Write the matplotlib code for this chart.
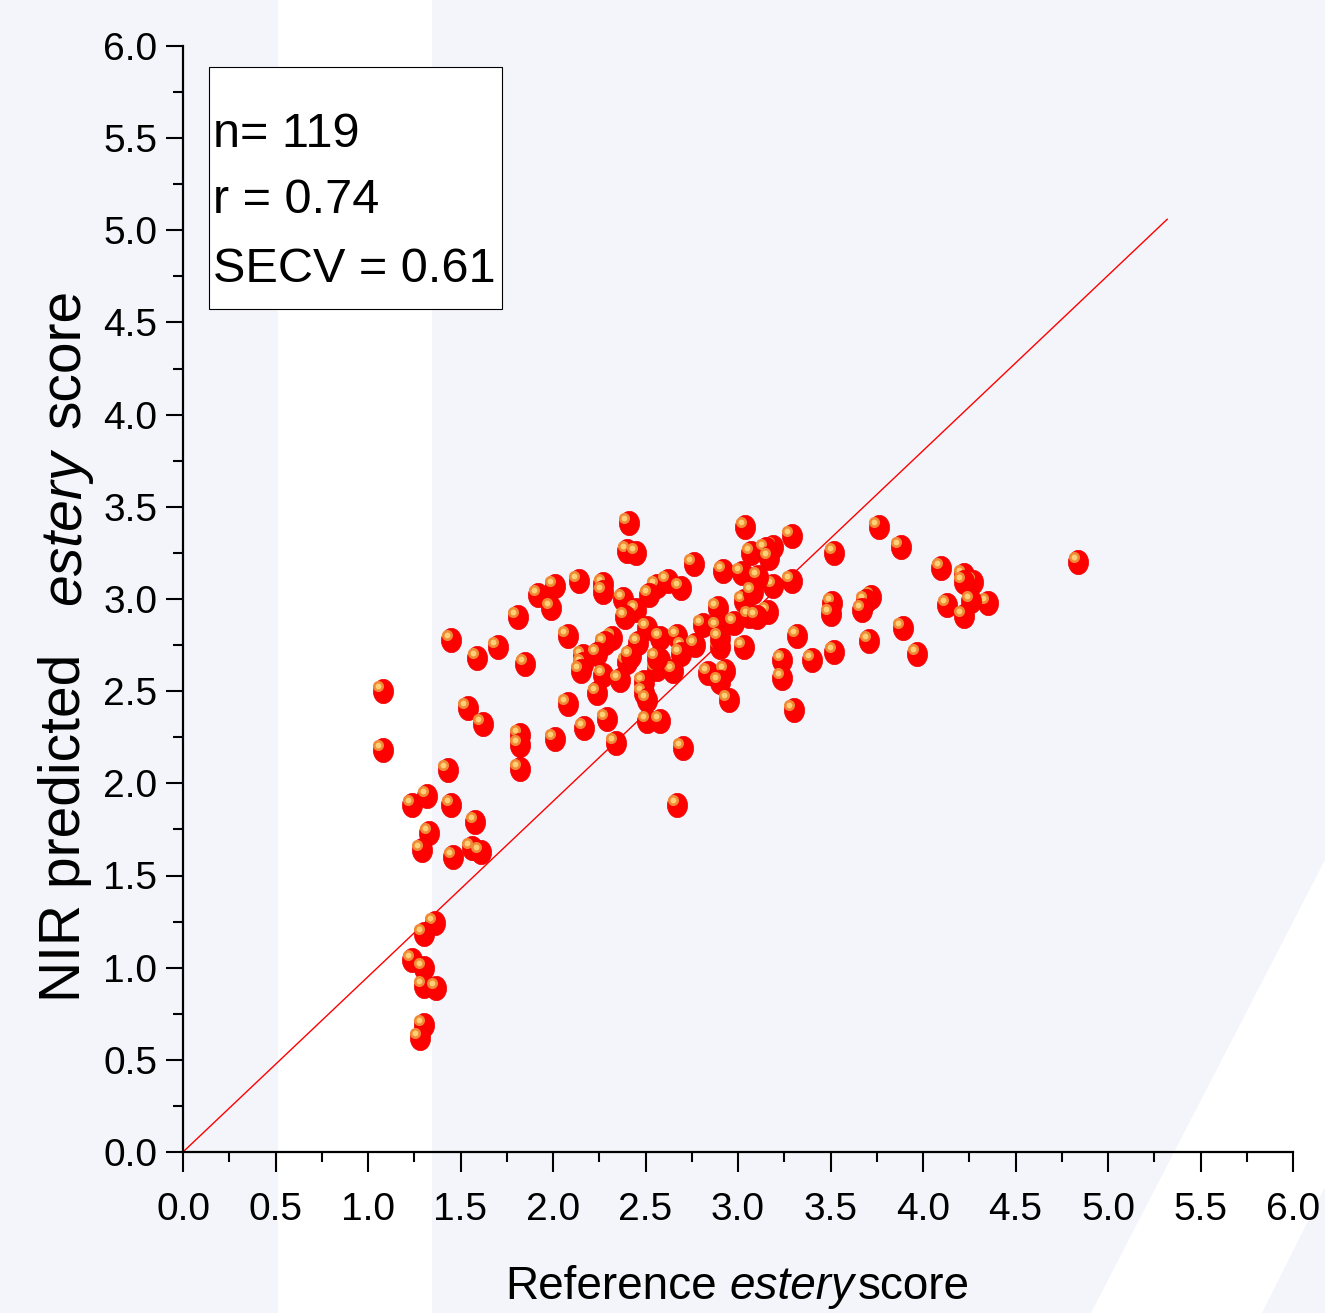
import matplotlib
matplotlib.use("Agg")
import matplotlib.pyplot as plt
from matplotlib import font_manager, patches
from matplotlib.path import Path
from matplotlib.transforms import offset_copy
import numpy as np

# reference (x) and NIR predicted (y) estery scores
ref_x = [1.08, 1.08, 1.43, 1.24, 1.32, 1.45, 1.33, 1.29, 1.58, 1.46,
         1.56, 1.61, 1.36, 1.30, 1.24, 1.30, 1.30, 1.37, 1.30, 1.28,
         1.45, 1.59, 1.54, 1.62, 1.70, 1.81, 1.85, 1.82, 1.82, 1.82,
         2.41, 2.40, 2.45, 3.04, 2.76, 2.92, 2.14, 2.27, 2.27, 2.01,
         1.92, 1.99, 2.08, 2.56, 2.62, 2.69, 2.52, 2.38, 2.45, 2.39,
         3.07, 3.02, 3.03, 2.89, 2.81, 2.89, 2.98, 3.06, 3.03, 2.90,
         2.90, 2.32, 2.51, 2.58, 2.67, 2.28, 2.46, 2.70, 2.77, 2.16,
         2.24, 2.16, 2.15, 2.40, 2.58, 2.69, 2.27, 2.36, 2.56, 2.65,
         2.84, 2.93, 2.24, 2.49, 2.49, 2.51, 2.90, 2.95, 2.08, 2.51,
         2.58, 2.29, 2.17, 2.01, 2.34, 2.70, 2.67, 2.42, 2.56,
         3.76, 3.88, 3.29, 3.52, 3.19, 3.15, 3.17, 4.84, 4.10, 4.22,
         4.27, 4.22, 3.29, 3.19, 3.11, 3.08, 3.72, 3.69, 3.67, 3.51,
         3.50, 4.35, 4.26, 4.13, 4.22, 3.16, 3.10, 3.89, 3.32, 3.71,
         3.52, 3.40, 3.24, 3.24, 3.97, 3.30]
pred_y = [2.50, 2.18, 2.07, 1.88, 1.93, 1.88, 1.73, 1.64, 1.79, 1.60,
          1.65, 1.63, 1.24, 1.18, 1.04, 1.00, 0.90, 0.89, 0.69, 0.62,
          2.78, 2.68, 2.41, 2.32, 2.74, 2.90, 2.65, 2.26, 2.21, 2.08,
          3.41, 3.26, 3.25, 3.39, 3.19, 3.15, 3.10, 3.08, 3.04, 3.07,
          3.02, 2.95, 2.80, 3.07, 3.10, 3.06, 3.02, 3.00, 2.94, 2.90,
          3.25, 3.14, 2.99, 2.95, 2.86, 2.85, 2.87, 2.91, 2.74, 2.74,
          2.79, 2.79, 2.84, 2.79, 2.80, 2.76, 2.76, 2.74, 2.75, 2.69,
          2.70, 2.65, 2.61, 2.66, 2.67, 2.70, 2.59, 2.56, 2.62, 2.61,
          2.60, 2.61, 2.49, 2.55, 2.49, 2.45, 2.55, 2.45, 2.43, 2.34,
          2.34, 2.35, 2.30, 2.24, 2.22, 2.19, 1.88, 2.69, 2.68,
          3.39, 3.28, 3.34, 3.25, 3.28, 3.27, 3.22, 3.20, 3.17, 3.13,
          3.09, 3.09, 3.10, 3.07, 3.12, 3.04, 3.01, 2.99, 2.94, 2.98,
          2.92, 2.98, 2.99, 2.97, 2.91, 2.93, 2.90, 2.84, 2.80, 2.77,
          2.71, 2.67, 2.67, 2.57, 2.70, 2.40]

# fitted line
fit_x = [0.0, 5.32]
fit_y = [0.0, 5.06]

stats_lines = ["n= 119", "r = 0.74", "SECV = 0.61"]
major_ticks = np.arange(0, 6.01, 0.5)
tick_labels = [f"{t:.1f}" for t in major_ticks]

W, H = 1325, 1313
bg = "#f4f5fb"

names = {f.name for f in font_manager.fontManager.ttflist}
narrow = "Liberation Sans Narrow" in names
plt.rcParams["font.family"] = ["Liberation Sans", "DejaVu Sans"]
nfam = ["Liberation Sans Narrow", "Liberation Sans"] if narrow else ["Liberation Sans"]
box_size = 39 if narrow else 35
ylab_size = 47 if narrow else 41


def px(x, y):
    return x / W, 1 - y / H


fig = plt.figure(figsize=(W / 100, H / 100), dpi=100, facecolor=bg)

# background decoration
fig.add_artist(patches.Rectangle(px(278, H), 154 / W, 1, transform=fig.transFigure,
                                 facecolor="white", edgecolor="none", zorder=-1))
fig.add_artist(patches.Polygon([px(1325, 860), px(1325, 1187), px(1262, 1313), px(1091, 1313)],
                               closed=True, transform=fig.transFigure,
                               facecolor="white", edgecolor="none", zorder=-1))

ax = fig.add_axes([183 / W, 1 - 1152 / H, 1110 / W, 1106 / H])
ax.set_facecolor("none")
ax.set_xlim(0, 6)
ax.set_ylim(0, 6)

ax.plot(fit_x, fit_y, color="#ff0000", lw=1.0, zorder=2)

t = np.linspace(0, 2 * np.pi, 60)
blob = Path(np.column_stack([0.83 * np.cos(t), np.sin(t)]), closed=True)
hl = offset_copy(ax.transData, fig=fig, x=-3.2, y=3.6, units="points")

for x, y in zip(ref_x, pred_y):
    ax.plot(x, y, marker=blob, ms=17.5, color="#ff0000", mec="#ee0000", mew=0.5,
            ls="none", zorder=3)
    ax.plot(x, y, marker="o", ms=8, color="#f08a35", mec="none", ls="none",
            transform=hl, zorder=3)
    ax.plot(x, y, marker="o", ms=4.2, color="#ffcf78", mec="none", ls="none",
            transform=hl, zorder=3)

for s in ["top", "right"]:
    ax.spines[s].set_visible(False)
for s in ["left", "bottom"]:
    ax.spines[s].set_linewidth(1.6)

ax.set_xticks(major_ticks)
ax.set_yticks(major_ticks)
ax.set_xticklabels(tick_labels)
ax.set_yticklabels(tick_labels)
ax.set_xticks(np.arange(0.25, 6, 0.5), minor=True)
ax.set_yticks(np.arange(0.25, 6, 0.5), minor=True)
ax.tick_params(axis="x", which="major", length=14.5, width=1.5, labelsize=28, pad=14)
ax.tick_params(axis="y", which="major", length=12.5, width=1.5, labelsize=28, pad=6)
ax.tick_params(axis="both", which="minor", length=7, width=1.5)

# stats box
fig.add_artist(patches.Rectangle(px(209, 309), 293 / W, 242 / H, transform=fig.transFigure,
                                 facecolor="white", edgecolor="black", lw=0.8, zorder=2))
for line, base in zip(stats_lines, [147, 213, 282]):
    fig.text(*px(213, base), line, family=nfam, fontsize=box_size, ha="left",
             va="baseline", zorder=3)

# x label
fig.text(*px(611, 1299), "Reference", fontsize=33, ha="center", va="baseline")
fig.text(*px(792, 1299), "estery", fontsize=33, style="italic", ha="center", va="baseline")
fig.text(*px(914, 1299), "score", fontsize=33, ha="center", va="baseline")

# y label
for txt, cy, st in [("NIR predicted", 828, "normal"), ("estery", 527, "italic"),
                    ("score", 358, "normal")]:
    fig.text(*px(80, cy), txt, family=nfam, fontsize=ylab_size, style=st, rotation=90,
             rotation_mode="anchor", ha="center", va="baseline")

fig.savefig("out.png", dpi=100, facecolor=bg)
